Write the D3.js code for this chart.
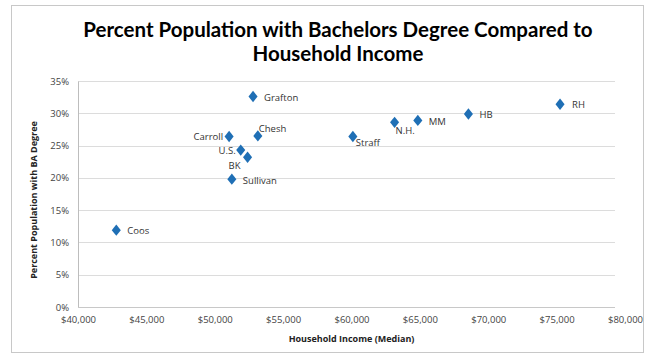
<!DOCTYPE html>
<html>
<head>
<meta charset="utf-8">
<script src="https://cdn.jsdelivr.net/npm/d3@7/dist/d3.min.js"></script>
<style>
  html, body { margin: 0; padding: 0; background: #fff; }
  svg { display: block; }
</style>
</head>
<body>
<svg id="chart" width="649" height="358"></svg>
<script>
// Areas and their median household income vs share of adults with a BA degree
const names   = ["Coos", "Grafton", "Carroll", "Chesh", "U.S.", "BK", "Sullivan", "Straff", "N.H.", "MM", "HB", "RH"];
const incomes = [42800, 52800, 51050, 53150, 51900, 52400, 51250, 60100, 63150, 64850, 68550, 75250];
const percent = [11.9, 32.6, 26.4, 26.5, 24.3, 23.2, 19.8, 26.4, 28.6, 28.9, 29.9, 31.4];

const xTicks = [40000, 45000, 50000, 55000, 60000, 65000, 70000, 75000, 80000];
const yTicks = [0, 5, 10, 15, 20, 25, 30, 35];

// label placement relative to each marker: [dx, dy, anchor]
const labelPlace = {
  "Coos":     [11, 1, "start"],
  "Grafton":  [11, 1, "start"],
  "Carroll":  [-6, 0, "end"],
  "Chesh":    [1, -7, "start"],
  "U.S.":     [-5, 1, "end"],
  "BK":       [-7, 8, "end"],
  "Sullivan": [11, 2, "start"],
  "Straff":   [3, 6, "start"],
  "N.H.":     [1, 8, "start"],
  "MM":       [11, 1, "start"],
  "HB":       [11, 1, "start"],
  "RH":       [12, 0, "start"]
};

const svg = d3.select("#chart");
const font = "'Open Sans', Lato, sans-serif";

// chart frame
svg.append("rect")
  .attr("x", 11.5).attr("y", 5.5).attr("width", 632).attr("height", 347)
  .attr("fill", "#fff").attr("stroke", "#c8c8c8").attr("stroke-width", 1);

const x = d3.scaleLinear().domain([40000, 80000]).range([78, 625]);
const y = d3.scaleLinear().domain([0, 35]).range([307, 81]);

// title
const title = svg.append("text")
  .attr("text-anchor", "middle")
  .attr("font-family", "Lato, 'Open Sans', sans-serif")
  .attr("font-weight", "bold")
  .attr("font-size", 20.5)
  .attr("fill", "#000");
title.append("tspan").attr("x", 338).attr("y", 37)
  .text("Percent Population with Bachelors Degree Compared to");
title.append("tspan").attr("x", 338).attr("y", 61)
  .text("Household Income");

// horizontal gridlines
svg.append("g")
  .selectAll("line")
  .data(yTicks.filter(d => d > 0))
  .join("line")
  .attr("x1", x(40000)).attr("x2", 615)
  .attr("y1", d => Math.round(y(d)) + 0.5).attr("y2", d => Math.round(y(d)) + 0.5)
  .attr("stroke", "#dcdcdc").attr("stroke-width", 1);

// y axis
const yAxis = svg.append("g")
  .attr("transform", `translate(${x(40000)},0)`)
  .call(d3.axisLeft(y).tickValues(yTicks).tickSize(0).tickPadding(9)
    .tickFormat(d => d + "%"));
yAxis.select(".domain").attr("stroke", "#bdbdbd");
yAxis.selectAll("text")
  .attr("font-family", font).attr("font-size", 9.5).attr("fill", "#444");

// x axis
const xAxis = svg.append("g")
  .attr("transform", `translate(0,${y(0)})`)
  .call(d3.axisBottom(x).tickValues(xTicks).tickSize(0).tickPadding(9)
    .tickFormat(d => "$" + d3.format(",")(d)));
xAxis.select(".domain").attr("stroke", "#c8c8c8").attr("d", `M${x(40000)},0.5H615`);
xAxis.selectAll("text")
  .attr("font-family", font).attr("font-size", 9.5).attr("fill", "#444");

// axis titles
svg.append("text")
  .attr("x", (x(40000) + x(80000)) / 2).attr("y", 342)
  .attr("text-anchor", "middle")
  .attr("font-family", font).attr("font-weight", "bold").attr("font-size", 9)
  .attr("fill", "#222")
  .text("Household Income (Median)");

svg.append("text")
  .attr("transform", "translate(37,200) rotate(-90)")
  .attr("text-anchor", "middle")
  .attr("font-family", font).attr("font-weight", "bold").attr("font-size", 9)
  .attr("fill", "#222")
  .text("Percent Population with BA Degree");

// markers
const pts = names.map((n, i) => ({ name: n, inc: incomes[i], pct: percent[i] }));
const diamond = d3.symbol().type(d3.symbolDiamond).size(34);

svg.append("g")
  .selectAll("path")
  .data(pts)
  .join("path")
  .attr("d", diamond)
  .attr("transform", d => `translate(${x(d.inc)},${y(d.pct)}) scale(1.45,1.05)`)
  .attr("fill", "#1f6fb5");

// point labels
svg.append("g")
  .selectAll("text")
  .data(pts)
  .join("text")
  .attr("x", d => x(d.inc) + labelPlace[d.name][0])
  .attr("y", d => y(d.pct) + labelPlace[d.name][1])
  .attr("dy", "0.35em")
  .attr("text-anchor", d => labelPlace[d.name][2])
  .attr("font-family", font).attr("font-size", 9.5)
  .attr("fill", "#333")
  .text(d => d.name);
</script>
</body>
</html>
